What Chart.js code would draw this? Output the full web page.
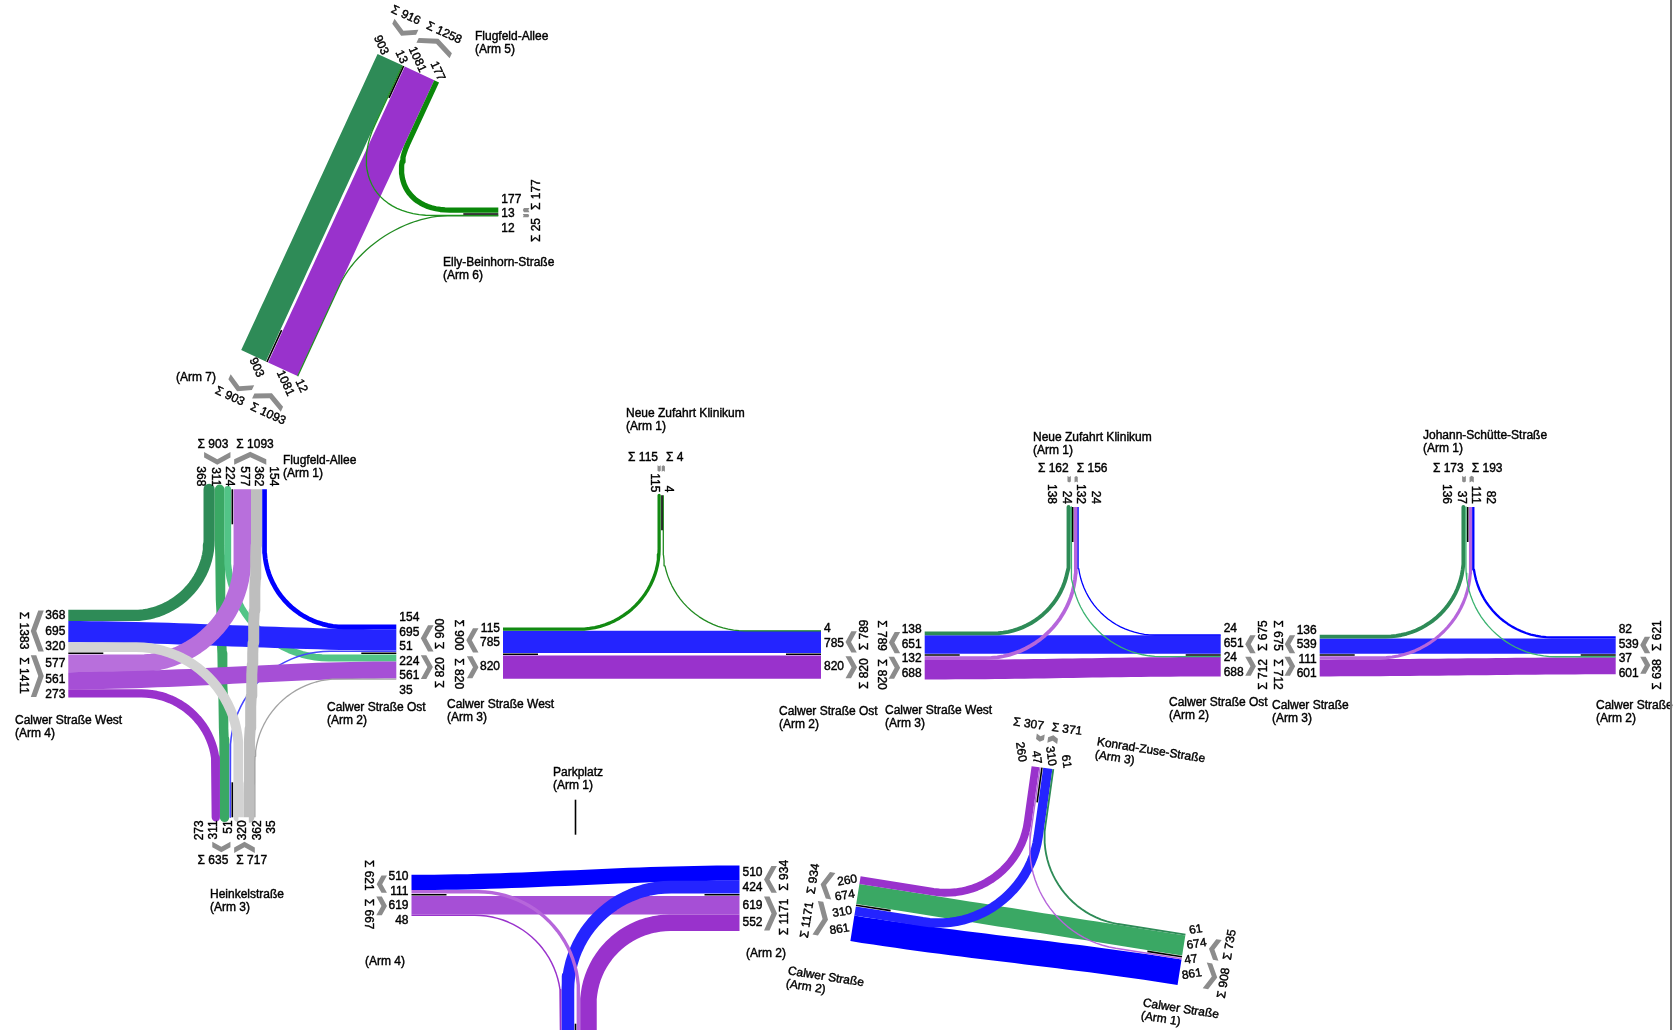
<!DOCTYPE html>
<html>
<head>
<meta charset="utf-8">
<title>Verkehrsstrombelastungsplan</title>
<script src="https://cdn.jsdelivr.net/npm/chart.js@4.4.1/dist/chart.umd.min.js"></script>
<style>
    html, body { margin: 0; padding: 0; background: #fff; }
    canvas { display: block; }
</style>
</head>
<body>
<canvas id="plan" width="1675" height="1030"></canvas>
<script>
const W = 1675
const H = 1030

// === Knotenströme (Kfz) ===
// Knoten Calwer Straße / Flugfeld-Allee / Heinkelstraße
const k1From = [1, 1, 1, 2, 2, 2, 3, 3, 3, 4, 4, 4]
const k1To = [4, 3, 2, 1, 4, 3, 4, 1, 2, 1, 2, 3]
const k1Values = [368, 311, 224, 154, 695, 51, 320, 362, 35, 577, 561, 273]

// Knoten Calwer Straße / Neue Zufahrt Klinikum (1)
const k2From = [1, 2, 2, 3]
const k2To = [3, 1, 3, 2]
const k2Values = [115, 4, 785, 820]

// Knoten Calwer Straße / Neue Zufahrt Klinikum (2)
const k3From = [1, 1, 2, 2, 3, 3]
const k3To = [3, 2, 1, 3, 1, 2]
const k3Values = [138, 24, 24, 651, 132, 688]

// Knoten Calwer Straße / Johann-Schütte-Straße
const k4From = [1, 1, 2, 2, 3, 3]
const k4To = [3, 2, 1, 3, 1, 2]
const k4Values = [136, 37, 82, 539, 111, 601]

// Knoten Calwer Straße / Parkplatz
const k5From = [2, 2, 3, 3, 4, 4]
const k5To = [4, 3, 4, 2, 2, 3]
const k5Values = [510, 424, 111, 552, 619, 48]

// Knoten Calwer Straße / Konrad-Zuse-Straße
const k6From = [3, 3, 2, 2, 1, 1]
const k6To = [2, 1, 3, 1, 2, 3]
const k6Values = [260, 47, 310, 861, 674, 61]

// Knoten Flugfeld-Allee / Elly-Beinhorn-Straße
const k7From = [5, 5, 7, 7, 6]
const k7To = [7, 6, 5, 6, 5]
const k7Values = [903, 13, 1081, 12, 177]

// colours per stream
const k1Colors = ["#2E8B57", "#3AA864", "#52C487", "#0000FF", "#2525FF", "#4646FF", "#D3D3D3", "#BEBEBE", "#A3A3A3", "#B86FDC", "#A64FD6", "#9932CC"]
const k2Colors = ["#128A12", "#228B22", "#2424FF", "#9932CC"]
const k3Colors = ["#2E8B57", "#3CB371", "#0000FF", "#2424FF", "#B666DB", "#9932CC"]
const k4Colors = ["#2E8B57", "#3CB371", "#0000FF", "#2424FF", "#B666DB", "#9932CC"]
const k5Colors = ["#0000FF", "#2424FF", "#B666DB", "#9932CC", "#A64FD6", "#9932CC"]
const k6Colors = ["#9932CC", "#B666DB", "#2424FF", "#0000FF", "#3AA864", "#2E8B57"]
const k7Colors = ["#2E8B57", "#1E921E", "#9932CC", "#228B22", "#0A870A"]

// layout: centre, scale (px per Kfz), arms {id: [angle, length]}, optional drawing layer per origin arm
const nodes = [
    { from: k1From, to: k1To, values: k1Values, colors: k1Colors, cx: 232.3, cy: 653.3, k: 0.0305,
        arms: { 1: [-90, 164], 2: [0, 164], 3: [90, 164], 4: [180, 164] },
        layer: { 1: 0, 2: 1, 4: 2, 3: 3 } },
    { from: k2From, to: k2To, values: k2Values, colors: k2Colors, cx: 662, cy: 654.3, k: 0.0283,
        arms: { 1: [-90, 159], 2: [0, 159], 3: [180, 159] } },
    { from: k3From, to: k3To, values: k3Values, colors: k3Colors, cx: 1072.7, cy: 655, k: 0.0283,
        arms: { 1: [-90, 148], 2: [0, 148], 3: [180, 148] } },
    { from: k4From, to: k4To, values: k4Values, colors: k4Colors, cx: 1467.7, cy: 655, k: 0.0283,
        arms: { 1: [-90, 148], 2: [0, 148], 3: [180, 148] } },
    { from: k5From, to: k5To, values: k5Values, colors: k5Colors, cx: 575.5, cy: 894.7, k: 0.030,
        arms: { 1: [-90, 95], 2: [0, 164], 3: [90, 164], 4: [180, 164] } },
    { from: k6From, to: k6To, values: k6Values, colors: k6Colors, cx: 1019, cy: 931, k: 0.030,
        arms: { 1: [9, 165], 2: [189, 165], 3: [-82, 165] } },
    { from: k7From, to: k7To, values: k7Values, colors: k7Colors, cx: 335.3, cy: 214, k: 0.030,
        arms: { 5: [-65.2, 163], 6: [0, 163], 7: [114.8, 163] } },
]

const streetLabels = [
    { lines: ["Flugfeld-Allee", "(Arm 5)"], x: 475, y: 37 },
    { lines: ["Elly-Beinhorn-Straße", "(Arm 6)"], x: 443, y: 263 },
    { lines: ["(Arm 7)"], x: 176, y: 378 },
    { lines: ["Flugfeld-Allee", "(Arm 1)"], x: 283, y: 461 },
    { lines: ["Calwer Straße West", "(Arm 4)"], x: 15, y: 721 },
    { lines: ["Calwer Straße Ost", "(Arm 2)"], x: 327, y: 708 },
    { lines: ["Heinkelstraße", "(Arm 3)"], x: 210, y: 895 },
    { lines: ["Neue Zufahrt Klinikum", "(Arm 1)"], x: 626, y: 414 },
    { lines: ["Calwer Straße West", "(Arm 3)"], x: 447, y: 705 },
    { lines: ["Calwer Straße Ost", "(Arm 2)"], x: 779, y: 712 },
    { lines: ["Neue Zufahrt Klinikum", "(Arm 1)"], x: 1033, y: 438 },
    { lines: ["Calwer Straße West", "(Arm 3)"], x: 885, y: 711 },
    { lines: ["Calwer Straße Ost", "(Arm 2)"], x: 1169, y: 703 },
    { lines: ["Johann-Schütte-Straße", "(Arm 1)"], x: 1423, y: 436 },
    { lines: ["Calwer Straße", "(Arm 3)"], x: 1272, y: 706 },
    { lines: ["Calwer Straße", "(Arm 2)"], x: 1596, y: 706 },
    { lines: ["Parkplatz", "(Arm 1)"], x: 553, y: 773 },
    { lines: ["(Arm 4)"], x: 365, y: 962 },
    { lines: ["(Arm 2)"], x: 746, y: 954 },
    { lines: ["Calwer Straße", "(Arm 2)"], x: 788, y: 971, rot: 9 },
    { lines: ["Konrad-Zuse-Straße", "(Arm 3)"], x: 1097, y: 742, rot: 9 },
    { lines: ["Calwer Straße", "(Arm 1)"], x: 1143, y: 1003, rot: 9 },
]

const FONT = "12px 'Liberation Sans', Arial, sans-serif"
const GAP = 2.5
const PAD = 3

const rad = (d) => (d * Math.PI) / 180
const add = (a, b) => [a[0] + b[0], a[1] + b[1]]
const mul = (a, s) => [a[0] * s, a[1] * s]
const dot = (a, b) => a[0] * b[0] + a[1] * b[1]
const cross = (a, b) => a[0] * b[1] - a[1] * b[0]

function bezier(p0, p1, p2, p3, n) {
    const pts = []
    for (let i = 0; i <= n; i++) {
        const t = i / n
        const m = 1 - t
        pts.push([
            m * m * m * p0[0] + 3 * m * m * t * p1[0] + 3 * m * t * t * p2[0] + t * t * t * p3[0],
            m * m * m * p0[1] + 3 * m * m * t * p1[1] + 3 * m * t * t * p2[1] + t * t * t * p3[1],
        ])
    }
    return pts
}

// path of one stream: straight along the arm, rounded corner, straight out
function flowPath(p0, d0, p3, d3) {
    const c = cross(d0, d3)
    if (Math.abs(c) > 0.25) {
        const D = [p3[0] - p0[0], p3[1] - p0[1]]
        const t = (D[0] * d3[1] - D[1] * d3[0]) / c
        const s = (d0[0] * D[1] - d0[1] * D[0]) / c
        if (t > 0 && s > 0) {
            const R = 0.6 * Math.min(t, s)
            const S = add(p0, mul(d0, t - R))
            const E = add(p3, mul(d3, -(s - R)))
            return [p0, ...bezier(S, add(S, mul(d0, R * 0.55)), add(E, mul(d3, -R * 0.55)), E, 24), p3]
        }
    }
    const h = Math.hypot(p3[0] - p0[0], p3[1] - p0[1]) * 0.35
    return bezier(p0, add(p0, mul(d0, h)), add(p3, mul(d3, -h)), p3, 30)
}

// push labels apart (cluster merging)
function spreadLabels(ideal, sp) {
    let cls = ideal.map((v) => [v])
    const startOf = (c) => c.reduce((s, v, j) => s + v - j * sp, 0) / c.length
    let merged = true
    while (merged) {
        merged = false
        for (let i = 0; i < cls.length - 1; i++) {
            const a = cls[i]
            const b = cls[i + 1]
            if (startOf(a) + a.length * sp > startOf(b) + 0.01) {
                cls.splice(i, 2, a.concat(b))
                merged = true
                break
            }
        }
    }
    const out = []
    cls.forEach((c) => {
        const s = startOf(c)
        c.forEach((_, j) => out.push(s + j * sp))
    })
    return out
}

// build datasets + arm info
const datasets = []
const armInfo = []
nodes.forEach((node) => {
    const arms = {}
    Object.keys(node.arms).forEach((key) => {
        const [ang, len] = node.arms[key]
        const u = [Math.cos(rad(ang)), Math.sin(rad(ang))]
        arms[key] = {
            ang, u, r: [-u[1], u[0]],
            end: [node.cx + u[0] * len, node.cy + u[1] * len],
            slots: [], inSum: 0, outSum: 0, inW: 0, outW: 0,
        }
    })
    const n = node.values.length
    const offFrom = []
    const offTo = []
    Object.keys(arms).forEach((key) => {
        const a = arms[key]
        const id = Number(key)
        const outs = []
        const ins = []
        for (let i = 0; i < n; i++) {
            if (node.to[i] === id) outs.push(i)
            if (node.from[i] === id) ins.push(i)
        }
        outs.sort((i, j) => dot(arms[node.from[i]].u, a.r) - dot(arms[node.from[j]].u, a.r))
        ins.sort((i, j) => dot(arms[node.to[j]].u, a.r) - dot(arms[node.to[i]].u, a.r))
        let cum = GAP / 2
        outs.forEach((i) => {
            const w = node.values[i] * node.k
            offTo[i] = cum + w / 2
            cum += w
            a.outSum += node.values[i]
            a.slots.push({ off: offTo[i], v: node.values[i] })
        })
        a.outW = cum
        cum = GAP / 2
        ins.forEach((i) => {
            const w = node.values[i] * node.k
            offFrom[i] = -(cum + w / 2)
            cum += w
            a.inSum += node.values[i]
            a.slots.push({ off: offFrom[i], v: node.values[i] })
        })
        a.inW = cum
    })
    for (let i = 0; i < n; i++) {
        const a = arms[node.from[i]]
        const b = arms[node.to[i]]
        const p0 = add(a.end, mul(a.r, offFrom[i]))
        const p3 = add(b.end, mul(b.r, offTo[i]))
        const pts = flowPath(p0, mul(a.u, -1), p3, b.u)
        const w = Math.max(1.3, node.values[i] * node.k)
        // lower order = drawn later (on top)
        const layer = node.layer ? node.layer[node.from[i]] : 0
        datasets.push({
            label: node.from[i] + "→" + node.to[i],
            data: pts.map((p) => ({ x: p[0], y: p[1] })),
            showLine: true,
            borderColor: node.colors[i],
            backgroundColor: node.colors[i],
            borderWidth: w,
            pointRadius: 0,
            pointHoverRadius: 0,
            borderCapStyle: "butt",
            borderJoinStyle: "round",
            tension: 0,
            order: (3 - layer) * 100 + w,
        })
    }
    Object.values(arms).forEach((a) => armInfo.push(a))
})

function drawText(ctx, txt, p, angDeg, align) {
    ctx.save()
    ctx.translate(p[0], p[1])
    ctx.rotate(rad(angDeg))
    ctx.textAlign = align
    ctx.textBaseline = "middle"
    ctx.fillStyle = "#000"
    ctx.strokeStyle = "#000"
    ctx.lineWidth = 0.4
    ctx.fillText(txt, 0, 0)
    ctx.strokeText(txt, 0, 0)
    ctx.restore()
}

const planLabels = {
    id: "planLabels",
    beforeDraw(chart) {
        const ctx = chart.ctx
        ctx.save()
        ctx.fillStyle = "#fff"
        ctx.fillRect(0, 0, chart.width, chart.height)
        ctx.restore()
    },
    afterDatasetsDraw(chart) {
        const ctx = chart.ctx
        const xs = chart.scales.x
        const ys = chart.scales.y
        const px = (p) => [xs.getPixelForValue(p[0]), ys.getPixelForValue(p[1])]
        ctx.save()
        ctx.font = FONT

        armInfo.forEach((a) => {
            const at = (q, s) => px(add(add(a.end, mul(a.u, q)), mul(a.r, s)))
            // black median line at the arm end
            ctx.strokeStyle = "#000"
            ctx.lineWidth = 1.6
            ctx.beginPath()
            ctx.moveTo(...at(0, 0))
            ctx.lineTo(...at(-35, 0))
            ctx.stroke()
            if (!a.slots.length) return

            // stream values
            let phi = -a.ang
            while (phi > 90) phi -= 180
            while (phi < -90) phi += 180
            const d = [Math.cos(rad(phi)), Math.sin(rad(phi))]
            const numAlign = dot(d, a.u) > 0 ? "left" : "right"
            const sp = 14.5 / Math.max(0.7, Math.abs(cross(d, a.r)))
            const slots = a.slots.slice().sort((p, q) => p.off - q.off)
            const pos = spreadLabels(slots.map((s) => s.off), sp)
            let ext = 0
            slots.forEach((s, j) => {
                const txt = String(s.v)
                const w = ctx.measureText(txt).width
                ext = Math.max(ext, w * Math.abs(dot(d, a.u)) + 6 * Math.abs(cross(d, a.u)))
                drawText(ctx, txt, at(PAD, pos[j]), phi, numAlign)
            })

            // grey direction chevrons
            const c0 = PAD + ext + 1.5
            let depth = 0
            const chevron = (s0, s1, outward) => {
                const h = Math.max(1.6, (s1 - s0) / 2 - 0.6)
                const sc = (s0 + s1) / 2
                const tip = Math.min(7.5, h * 0.55)
                const t = 5.5
                depth = Math.max(depth, tip + t)
                const poly = outward
                    ? [[c0, -h], [c0 + tip, 0], [c0, h], [c0 + t, h], [c0 + tip + t, 0], [c0 + t, -h]]
                    : [[c0 + tip, -h], [c0, 0], [c0 + tip, h], [c0 + tip + t, h], [c0 + t, 0], [c0 + tip + t, -h]]
                ctx.beginPath()
                poly.forEach(([q, s], i) => {
                    const p = at(q, sc + s)
                    if (i) ctx.lineTo(...p)
                    else ctx.moveTo(...p)
                })
                ctx.closePath()
                ctx.fill()
            }
            ctx.fillStyle = "#8c8c8c"
            if (a.inSum) chevron(-a.inW, -GAP / 2, false)
            if (a.outSum) chevron(GAP / 2, a.outW, true)

            // sums
            let psi = (Math.atan2(a.r[1], a.r[0]) * 180) / Math.PI
            while (psi >= 90) psi -= 180
            while (psi < -90) psi += 180
            const ds = [Math.cos(rad(psi)), Math.sin(rad(psi))]
            const along = dot(ds, a.r) > 0
            const qS = c0 + depth + 2.5 + 5
            if (a.inSum) drawText(ctx, "Σ " + a.inSum, at(qS, -4), psi, along ? "right" : "left")
            if (a.outSum) drawText(ctx, "Σ " + a.outSum, at(qS, 4), psi, along ? "left" : "right")
        })

        // street names
        streetLabels.forEach((l) => {
            ctx.save()
            ctx.translate(...px([l.x, l.y]))
            ctx.rotate(rad(l.rot || 0))
            ctx.fillStyle = "#000"
            ctx.strokeStyle = "#000"
            ctx.lineWidth = 0.4
            ctx.textAlign = "left"
            ctx.textBaseline = "middle"
            l.lines.forEach((line, i) => {
                ctx.fillText(line, 0, i * 13)
                ctx.strokeText(line, 0, i * 13)
            })
            ctx.restore()
        })

        // page border on the right
        ctx.fillStyle = "#737373"
        ctx.fillRect(px([1670, 0])[0], 0, 2, chart.height)
        ctx.restore()
    },
}

new Chart(document.getElementById("plan"), {
    type: "scatter",
    data: { datasets },
    options: {
        responsive: false,
        animation: false,
        devicePixelRatio: 1,
        events: [],
        layout: { padding: 0 },
        plugins: { legend: { display: false }, tooltip: { enabled: false } },
        scales: {
            x: { type: "linear", min: 0, max: W, display: false },
            y: { type: "linear", min: 0, max: H, reverse: true, display: false },
        },
    },
    plugins: [planLabels],
})
</script>
</body>
</html>
